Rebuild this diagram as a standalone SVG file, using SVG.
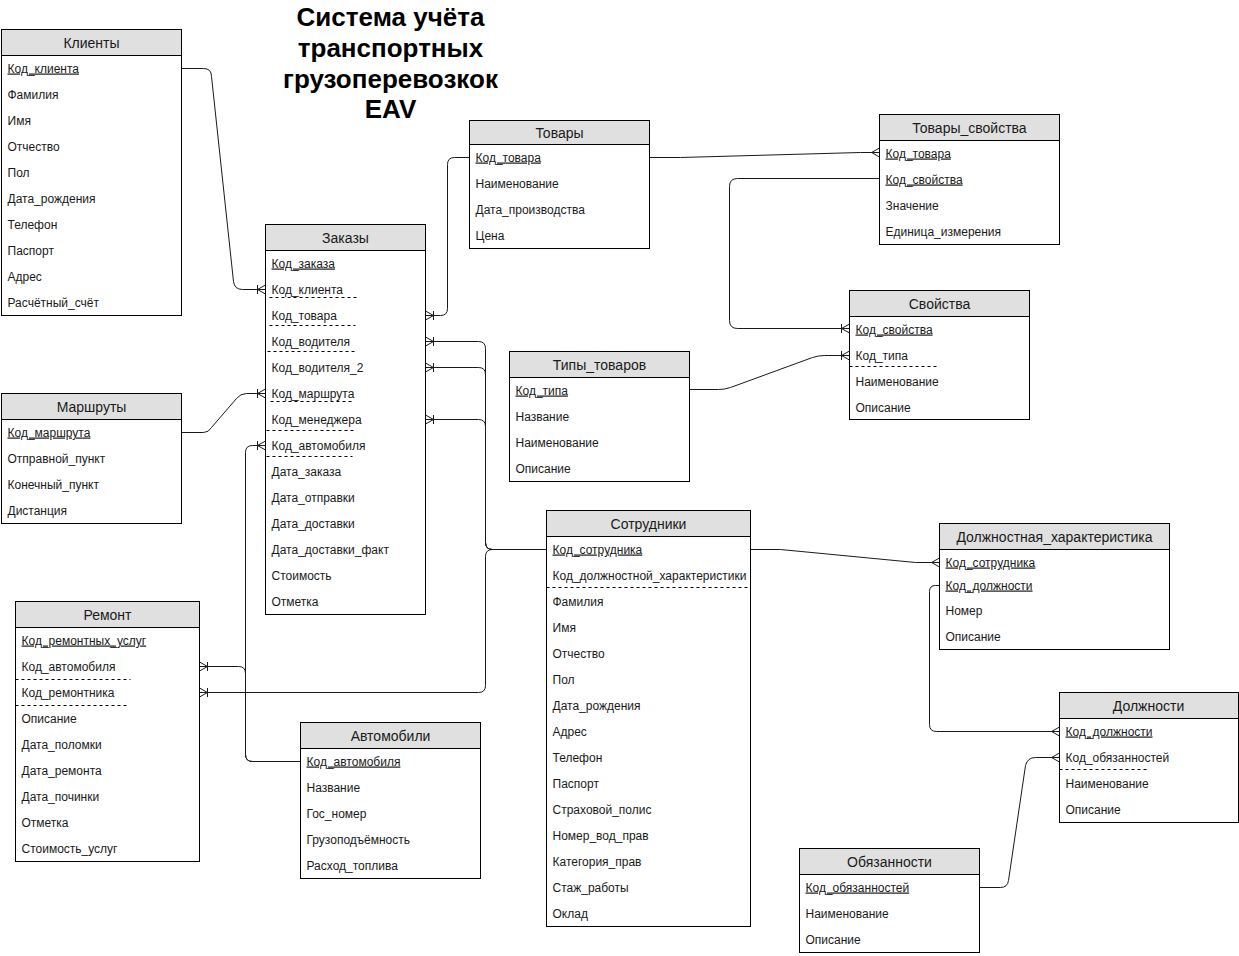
<svg xmlns="http://www.w3.org/2000/svg" width="1239" height="956" viewBox="0 0 1239 956">
<style>
.bx{fill:#fff;stroke:#000;stroke-width:1}
.hd{fill:#e0e0e0;stroke:#000;stroke-width:1}
.h{font-family:"Liberation Sans",Arial,sans-serif;font-size:14px;fill:#1a1a1a;text-anchor:middle}
.t{font-family:"Liberation Sans",Arial,sans-serif;font-size:12px;fill:#1a1a1a}
.pk{text-decoration:underline}
.ds{stroke:#000;stroke-width:1;stroke-dasharray:3 3;fill:none}
.c{fill:none;stroke:#1a1a1a;stroke-width:1}
.om{marker-end:url(#oneMany)}
.mn{marker-end:url(#many)}
.title{font-family:"Liberation Sans",Arial,sans-serif;font-size:26px;font-weight:bold;fill:#000;text-anchor:middle}
</style>
<defs>
<marker id="oneMany" viewBox="-12 -7 14 14" refX="0" refY="0" markerWidth="14" markerHeight="14" orient="auto" markerUnits="userSpaceOnUse">
<path d="M-8,0 L0,-4.5 M-8,0 L0,4.5 M-8,-4.5 L-8,4.5" fill="none" stroke="#1a1a1a" stroke-width="1"/>
</marker>
<marker id="many" viewBox="-12 -7 14 14" refX="0" refY="0" markerWidth="14" markerHeight="14" orient="auto" markerUnits="userSpaceOnUse">
<path d="M-8,0 L0,-4.5 M-8,0 L0,4.5" fill="none" stroke="#1a1a1a" stroke-width="1"/>
</marker>
</defs>
<rect x="0" y="0" width="1239" height="956" fill="#fff"/>
<g transform="translate(0.5,0.5)">

<g id="title">
<text class="title" x="390" y="25">Система учёта</text>
<text class="title" x="390" y="56">транспортных</text>
<text class="title" x="390" y="87">грузоперевозкок</text>
<text class="title" x="390" y="117">EAV</text>
</g>

<g id="connectors">
<path class="c om" d="M181,68 L203,68 Q211,68 211,76 L233,281 Q234,289 242,289 L265,289"/>
<path class="c om" d="M469,157 L454,157 Q447,157 447,164 L447,308 Q447,315 440,315 L425,315"/>
<path class="c mn" d="M649,157 L680,157 L860,152 L879,152"/>
<path class="c om" d="M879,178 L737,178 Q729,178 729,186 L729,320 Q729,328 737,328 L849,328"/>
<path class="c om" d="M689,389 L718,389 Q724,389 730,387 L812,357 Q818,355 824,355 L849,355"/>
<path class="c om" d="M181,432 L203,432 Q208,432 211,427 L236,398 Q240,393 246,393 L265,393"/>
<path class="c om" d="M300,761 L252,761 Q245,761 245,754 L245,452 Q245,445 252,445 L265,445"/>
<path class="c om" d="M300,761 L252,761 Q245,761 245,754 L245,673 Q245,666 238,666 L199,666"/>
<path class="c om" d="M546,549 L492,549 Q485,549 485,542 L485,348 Q485,341 478,341 L425,341"/>
<path class="c om" d="M546,549 L492,549 Q485,549 485,542 L485,374 Q485,367 478,367 L425,367"/>
<path class="c om" d="M546,549 L492,549 Q485,549 485,542 L485,426 Q485,419 478,419 L425,419"/>
<path class="c om" d="M546,549 L492,549 Q485,549 485,556 L485,685 Q485,692 478,692 L199,692"/>
<path class="c mn" d="M750,549 L780,549 L915,562 L939,562"/>
<path class="c mn" d="M939,585 L935,585 Q929,585 929,591 L929,724 Q929,731 936,731 L1059,731"/>
<path class="c mn" d="M979,887 L1000,887 Q1007,887 1008,880 L1025,765 Q1027,757 1035,757 L1059,757"/>
</g>

<g id="klienty">
<rect class="bx" x="1" y="29" width="180" height="286"/>
<rect class="hd" x="1" y="29" width="180" height="26"/>
<text class="h" x="91" y="47">Клиенты</text>
<text class="t pk" x="7" y="72">Код_клиента</text>
<text class="t" x="7" y="98">Фамилия</text>
<text class="t" x="7" y="124">Имя</text>
<text class="t" x="7" y="150">Отчество</text>
<text class="t" x="7" y="176">Пол</text>
<text class="t" x="7" y="202">Дата_рождения</text>
<text class="t" x="7" y="228">Телефон</text>
<text class="t" x="7" y="254">Паспорт</text>
<text class="t" x="7" y="280">Адрес</text>
<text class="t" x="7" y="306">Расчётный_счёт</text>
</g>

<g id="zakazy">
<rect class="bx" x="265" y="224" width="160" height="390"/>
<rect class="hd" x="265" y="224" width="160" height="26"/>
<text class="h" x="345" y="242">Заказы</text>
<text class="t pk" x="271" y="267">Код_заказа</text>
<text class="t" x="271" y="293">Код_клиента</text>
<text class="t" x="271" y="319">Код_товара</text>
<text class="t" x="271" y="345">Код_водителя</text>
<text class="t" x="271" y="371">Код_водителя_2</text>
<text class="t" x="271" y="397">Код_маршрута</text>
<text class="t" x="271" y="423">Код_менеджера</text>
<text class="t" x="271" y="449">Код_автомобиля</text>
<text class="t" x="271" y="475">Дата_заказа</text>
<text class="t" x="271" y="501">Дата_отправки</text>
<text class="t" x="271" y="527">Дата_доставки</text>
<text class="t" x="271" y="553">Дата_доставки_факт</text>
<text class="t" x="271" y="579">Стоимость</text>
<text class="t" x="271" y="605">Отметка</text>
<line class="ds" x1="269" y1="297" x2="356" y2="297"/>
<line class="ds" x1="269" y1="325" x2="355" y2="325"/>
<line class="ds" x1="267" y1="351" x2="355" y2="351"/>
<line class="ds" x1="270" y1="401" x2="353" y2="401"/>
<line class="ds" x1="266" y1="430" x2="353" y2="430"/>
<line class="ds" x1="266" y1="456" x2="352" y2="456"/>
</g>

<g id="tovary">
<rect class="bx" x="469" y="120" width="180" height="128"/>
<rect class="hd" x="469" y="120" width="180" height="24"/>
<text class="h" x="559" y="137">Товары</text>
<text class="t pk" x="475" y="161">Код_товара</text>
<text class="t" x="475" y="187">Наименование</text>
<text class="t" x="475" y="213">Дата_производства</text>
<text class="t" x="475" y="239">Цена</text>
</g>

<g id="tovary_svoistva">
<rect class="bx" x="879" y="114" width="180" height="130"/>
<rect class="hd" x="879" y="114" width="180" height="26"/>
<text class="h" x="969" y="132">Товары_свойства</text>
<text class="t pk" x="885" y="157">Код_товара</text>
<text class="t pk" x="885" y="183">Код_свойства</text>
<text class="t" x="885" y="209">Значение</text>
<text class="t" x="885" y="235">Единица_измерения</text>
</g>

<g id="svoistva">
<rect class="bx" x="849" y="290" width="180" height="129"/>
<rect class="hd" x="849" y="290" width="180" height="26"/>
<text class="h" x="939" y="308">Свойства</text>
<text class="t pk" x="855" y="333">Код_свойства</text>
<text class="t" x="855" y="359">Код_типа</text>
<text class="t" x="855" y="385">Наименование</text>
<text class="t" x="855" y="411">Описание</text>
<line class="ds" x1="849" y1="366" x2="936" y2="366"/>
</g>

<g id="tipy_tovarov">
<rect class="bx" x="509" y="351" width="180" height="130"/>
<rect class="hd" x="509" y="351" width="180" height="26"/>
<text class="h" x="599" y="369">Типы_товаров</text>
<text class="t pk" x="515" y="394">Код_типа</text>
<text class="t" x="515" y="420">Название</text>
<text class="t" x="515" y="446">Наименование</text>
<text class="t" x="515" y="472">Описание</text>
</g>

<g id="marshruty">
<rect class="bx" x="1" y="393" width="180" height="130"/>
<rect class="hd" x="1" y="393" width="180" height="26"/>
<text class="h" x="91" y="411">Маршруты</text>
<text class="t pk" x="7" y="436">Код_маршрута</text>
<text class="t" x="7" y="462">Отправной_пункт</text>
<text class="t" x="7" y="488">Конечный_пункт</text>
<text class="t" x="7" y="514">Дистанция</text>
</g>

<g id="remont">
<rect class="bx" x="15" y="601" width="184" height="260"/>
<rect class="hd" x="15" y="601" width="184" height="26"/>
<text class="h" x="107" y="619">Ремонт</text>
<text class="t pk" x="21" y="644">Код_ремонтных_услуг</text>
<text class="t" x="21" y="670">Код_автомобиля</text>
<text class="t" x="21" y="696">Код_ремонтника</text>
<text class="t" x="21" y="722">Описание</text>
<text class="t" x="21" y="748">Дата_поломки</text>
<text class="t" x="21" y="774">Дата_ремонта</text>
<text class="t" x="21" y="800">Дата_починки</text>
<text class="t" x="21" y="826">Отметка</text>
<text class="t" x="21" y="852">Стоимость_услуг</text>
<line class="ds" x1="15" y1="679" x2="130" y2="679"/>
<line class="ds" x1="15" y1="705" x2="126" y2="705"/>
</g>

<g id="avtomobili">
<rect class="bx" x="300" y="722" width="180" height="156"/>
<rect class="hd" x="300" y="722" width="180" height="26"/>
<text class="h" x="390" y="740">Автомобили</text>
<text class="t pk" x="306" y="765">Код_автомобиля</text>
<text class="t" x="306" y="791">Название</text>
<text class="t" x="306" y="817">Гос_номер</text>
<text class="t" x="306" y="843">Грузоподъёмность</text>
<text class="t" x="306" y="869">Расход_топлива</text>
</g>

<g id="sotrudniki">
<rect class="bx" x="546" y="510" width="204" height="416"/>
<rect class="hd" x="546" y="510" width="204" height="26"/>
<text class="h" x="648" y="528">Сотрудники</text>
<text class="t pk" x="552" y="553">Код_сотрудника</text>
<text class="t" x="552" y="579">Код_должностной_характеристики</text>
<text class="t" x="552" y="605">Фамилия</text>
<text class="t" x="552" y="631">Имя</text>
<text class="t" x="552" y="657">Отчество</text>
<text class="t" x="552" y="683">Пол</text>
<text class="t" x="552" y="709">Дата_рождения</text>
<text class="t" x="552" y="735">Адрес</text>
<text class="t" x="552" y="761">Телефон</text>
<text class="t" x="552" y="787">Паспорт</text>
<text class="t" x="552" y="813">Страховой_полис</text>
<text class="t" x="552" y="839">Номер_вод_прав</text>
<text class="t" x="552" y="865">Категория_прав</text>
<text class="t" x="552" y="891">Стаж_работы</text>
<text class="t" x="552" y="917">Оклад</text>
<line class="ds" x1="546" y1="587" x2="750" y2="587"/>
</g>

<g id="dolzhnostnaya_harakteristika">
<rect class="bx" x="939" y="523" width="230" height="126"/>
<rect class="hd" x="939" y="523" width="230" height="26"/>
<text class="h" x="1054" y="541">Должностная_характеристика</text>
<text class="t pk" x="945" y="566">Код_сотрудника</text>
<text class="t pk" x="945" y="589">Код_должности</text>
<text class="t" x="945" y="614">Номер</text>
<text class="t" x="945" y="640">Описание</text>
</g>

<g id="dolzhnosti">
<rect class="bx" x="1059" y="692" width="179" height="130"/>
<rect class="hd" x="1059" y="692" width="179" height="26"/>
<text class="h" x="1148" y="710">Должности</text>
<text class="t pk" x="1065" y="735">Код_должности</text>
<text class="t" x="1065" y="761">Код_обязанностей</text>
<text class="t" x="1065" y="787">Наименование</text>
<text class="t" x="1065" y="813">Описание</text>
<line class="ds" x1="1059" y1="769" x2="1146" y2="769"/>
</g>

<g id="obyazannosti">
<rect class="bx" x="799" y="848" width="180" height="104"/>
<rect class="hd" x="799" y="848" width="180" height="26"/>
<text class="h" x="889" y="866">Обязанности</text>
<text class="t pk" x="805" y="891">Код_обязанностей</text>
<text class="t" x="805" y="917">Наименование</text>
<text class="t" x="805" y="943">Описание</text>
</g>

</g>
</svg>
